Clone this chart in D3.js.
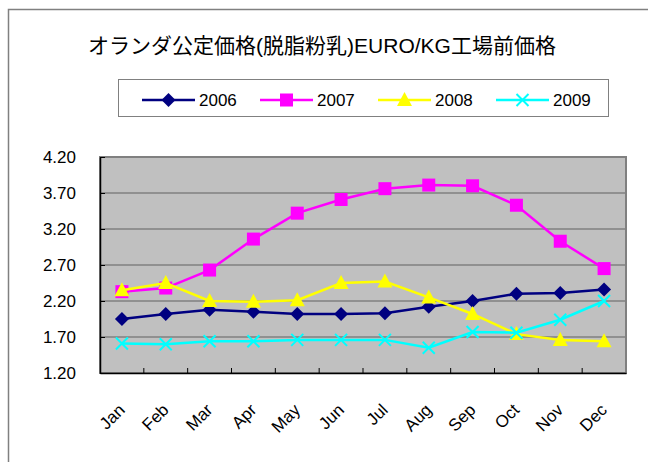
<!DOCTYPE html>
<html>
<head>
<meta charset="utf-8">
<script src="https://cdn.jsdelivr.net/npm/d3@7"></script>
<style>
  body { margin: 0; background: #fff; }
  svg text { font-family: "Liberation Sans", Arial, "Noto Sans CJK JP", sans-serif; fill: #000; }
</style>
</head>
<body>
<div id="chart"></div>
<script>
// Chart data
const months = ['Jan', 'Feb', 'Mar', 'Apr', 'May', 'Jun', 'Jul', 'Aug', 'Sep', 'Oct', 'Nov', 'Dec'];
const years = ['2006', '2007', '2008', '2009'];
const values2006 = [1.95, 2.02, 2.08, 2.05, 2.02, 2.02, 2.03, 2.12, 2.20, 2.30, 2.31, 2.36];
const values2007 = [2.33, 2.38, 2.63, 3.06, 3.42, 3.61, 3.76, 3.81, 3.80, 3.53, 3.03, 2.65];
const values2008 = [2.35, 2.45, 2.20, 2.19, 2.21, 2.45, 2.47, 2.25, 2.02, 1.74, 1.66, 1.64];
const values2009 = [1.61, 1.60, 1.64, 1.64, 1.66, 1.66, 1.66, 1.55, 1.77, 1.76, 1.94, 2.20];
const yTicks = [1.2, 1.7, 2.2, 2.7, 3.2, 3.7, 4.2];
const titleText = 'オランダ公定価格(脱脂粉乳)EURO/KG工場前価格';

const seriesList = [
  { name: years[0], values: values2006, color: '#000080', marker: 'diamond' },
  { name: years[1], values: values2007, color: '#FF00FF', marker: 'square' },
  { name: years[2], values: values2008, color: '#FFFF00', marker: 'triangle' },
  { name: years[3], values: values2009, color: '#00FFFF', marker: 'cross' },
];

const W = 648, H = 462;
const plot = { left: 100, top: 157, right: 626, bottom: 373 };

const svg = d3.select('#chart').append('svg')
  .attr('width', W).attr('height', H);

// Outer chart frame (only top and left edges are visible in the crop)
svg.append('rect')
  .attr('x', 8.5).attr('y', 9.5)
  .attr('width', W + 20).attr('height', H + 20)
  .attr('fill', '#fff').attr('stroke', '#808080').attr('stroke-width', 1.5);

svg.append('text')
  .attr('x', 322).attr('y', 53)
  .attr('text-anchor', 'middle')
  .style('font-size', '21px')
  .text(titleText);

const x = d3.scaleBand().domain(months).range([plot.left, plot.right]);
const y = d3.scaleLinear().domain([1.2, 4.2]).range([plot.bottom, plot.top]);

// Plot area
svg.append('rect')
  .attr('x', plot.left).attr('y', plot.top)
  .attr('width', plot.right - plot.left).attr('height', plot.bottom - plot.top)
  .attr('fill', '#C0C0C0').attr('stroke', '#808080').attr('stroke-width', 2);

// Gridlines
svg.append('g')
  .selectAll('line')
  .data(yTicks.slice(1, -1))
  .join('line')
  .attr('x1', plot.left).attr('x2', plot.right)
  .attr('y1', (d) => y(d)).attr('y2', (d) => y(d))
  .attr('stroke', '#808080').attr('stroke-width', 1.5);

// Y axis
const yAxis = svg.append('g')
  .attr('transform', `translate(${plot.left},0)`)
  .call(d3.axisLeft(y).tickValues(yTicks).tickFormat(d3.format('.2f')).tickSizeInner(-5).tickSizeOuter(0).tickPadding(24));
yAxis.select('.domain').attr('stroke', '#000').attr('stroke-width', 1.5);
yAxis.selectAll('.tick line').attr('stroke', '#000');
yAxis.selectAll('text').style('font-size', '17px').attr('fill', '#000');

// X axis
const xAxis = svg.append('g')
  .attr('transform', `translate(0,${plot.bottom})`)
  .call(d3.axisBottom(x).tickSize(0).tickFormat(''));
xAxis.select('.domain').attr('stroke', '#000').attr('stroke-width', 1.5);

// Category boundary ticks, pointing into the plot
svg.append('g')
  .selectAll('line')
  .data(months.slice(1))
  .join('line')
  .attr('x1', (d) => x(d)).attr('x2', (d) => x(d))
  .attr('y1', plot.bottom).attr('y2', plot.bottom - 5)
  .attr('stroke', '#000');

svg.append('g')
  .selectAll('text')
  .data(months)
  .join('text')
  .attr('transform', (d) => `translate(${x(d) + x.bandwidth() / 2 + 4},${plot.bottom + 38}) rotate(-45)`)
  .attr('text-anchor', 'end')
  .style('font-size', '17px')
  .text((d) => d);

// Marker drawing
function drawMarker(g, type, color) {
  if (type === 'diamond') {
    g.append('path').attr('d', 'M0,-7L7,0L0,7L-7,0Z').attr('fill', color);
  } else if (type === 'square') {
    g.append('rect').attr('x', -6.5).attr('y', -6.5).attr('width', 13).attr('height', 13).attr('fill', color);
  } else if (type === 'triangle') {
    g.append('path').attr('d', 'M0,-8L7.5,6L-7.5,6Z').attr('fill', color);
  } else {
    g.append('path').attr('d', 'M-6,-6L6,6M-6,6L6,-6').attr('stroke', color).attr('stroke-width', 2);
  }
}

const line = d3.line()
  .x((d, i) => x(months[i]) + x.bandwidth() / 2)
  .y((d) => y(d));

seriesList.forEach((s) => {
  svg.append('path')
    .datum(s.values)
    .attr('d', line)
    .attr('fill', 'none')
    .attr('stroke', s.color)
    .attr('stroke-width', 2.5);
  s.values.forEach((v, i) => {
    const g = svg.append('g')
      .attr('transform', `translate(${x(months[i]) + x.bandwidth() / 2},${y(v)})`);
    drawMarker(g, s.marker, s.color);
  });
});

// Legend
const legend = svg.append('g');
legend.append('rect')
  .attr('x', 118.5).attr('y', 79.5).attr('width', 490).attr('height', 37)
  .attr('fill', '#fff').attr('stroke', '#808080').attr('stroke-width', 1);

seriesList.forEach((s, i) => {
  const lx = 142 + i * 118;
  const ly = 100;
  const item = legend.append('g');
  item.append('line')
    .attr('x1', lx).attr('x2', lx + 53).attr('y1', ly).attr('y2', ly)
    .attr('stroke', s.color).attr('stroke-width', 2.5);
  drawMarker(item.append('g').attr('transform', `translate(${lx + 26.5},${ly})`), s.marker, s.color);
  item.append('text')
    .attr('x', lx + 57).attr('y', ly + 6)
    .style('font-size', '17px')
    .text(s.name);
});
</script>
</body>
</html>
